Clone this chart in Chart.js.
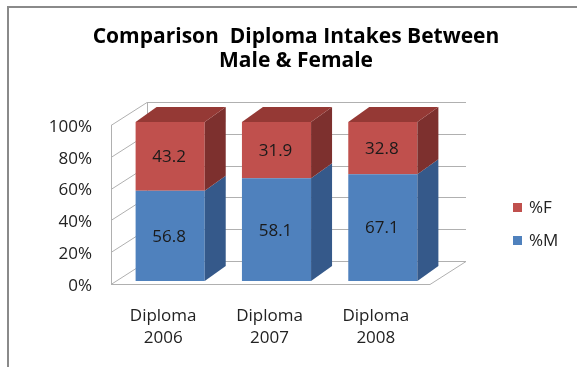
<!DOCTYPE html>
<html>
<head>
<meta charset="utf-8">
<script src="https://cdn.jsdelivr.net/npm/chart.js@4.4.1/dist/chart.umd.min.js"></script>
<style>
    html, body { margin: 0; padding: 0; background: #fff; }
    #wrap { width: 577px; height: 367px; position: relative; }
</style>
</head>
<body>
<div id="wrap"><canvas id="grafic-intakes"></canvas></div>
<script>
const categories = [['Diploma', '2006'], ['Diploma', '2007'], ['Diploma', '2008']];
const maleValues = [56.8, 58.1, 67.1];
const femaleValues = [43.2, 31.9, 32.8];
const seriesLabels = ['%M', '%F'];
const titleLines = ['Comparison  Diploma Intakes Between', 'Male & Female'];
const yTicks = [0, 20, 40, 60, 80, 100];

// 100% stacked: share of each year's total
const totals = maleValues.map((m, i) => m + femaleValues[i]);
const malePct = maleValues.map((m, i) => m / totals[i] * 100);
const femalePct = femaleValues.map((f, i) => f / totals[i] * 100);

const FONT = '"Open Sans"';
const colors = {
    mFront: '#4F81BD', mSide: '#35598A',
    fFront: '#C0504D', fSide: '#7D302E', fTop: '#953935'
};

/* 3D walls, grid, border, title, legend */
const decorPlugin = {
    id: 'decor',
    beforeDatasetsDraw(chart) {
        const ctx = chart.ctx;
        const a = chart.chartArea;
        const ys = chart.scales.y;
        const fx = -6, fy = 3, bx = 30, by = -20;

        ctx.save();
        // outer frame
        ctx.strokeStyle = '#8a8a8a';
        ctx.lineWidth = 2;
        ctx.beginPath();
        ctx.moveTo(8, 367);
        ctx.lineTo(8, 7);
        ctx.lineTo(577, 7);
        ctx.stroke();

        ctx.strokeStyle = '#b0b0b0';
        ctx.lineWidth = 1;
        ctx.beginPath();
        yTicks.forEach(v => {
            const py = Math.round(ys.getPixelForValue(v)) + 0.5;
            ctx.moveTo(a.left + fx, py + fy);
            ctx.lineTo(a.left + bx, py + by);
            ctx.lineTo(a.right + bx, py + by);
        });
        ctx.moveTo(a.left + fx + 0.5, a.top + fy);
        ctx.lineTo(a.left + fx + 0.5, a.bottom + fy);
        ctx.moveTo(a.left + bx + 0.5, a.top + by);
        ctx.lineTo(a.left + bx + 0.5, a.bottom + by);
        ctx.moveTo(a.left + fx, a.bottom + fy + 0.5);
        ctx.lineTo(a.right + fx, a.bottom + fy + 0.5);
        ctx.lineTo(a.right + bx, a.bottom + by + 0.5);
        ctx.stroke();

        // title
        ctx.fillStyle = '#000';
        ctx.textAlign = 'center';
        ctx.textBaseline = 'middle';
        ctx.font = 'bold 21px ' + FONT;
        ctx.fillText(titleLines[0], 296, 37);
        ctx.fillText(titleLines[1], 296, 61);

        // legend (top series first)
        ctx.font = '17px ' + FONT;
        ctx.textAlign = 'left';
        const ds = chart.data.datasets;
        for (let i = ds.length - 1, k = 0; i >= 0; i--, k++) {
            const ly = 207 + k * 33;
            ctx.fillStyle = ds[i].backgroundColor;
            ctx.fillRect(513, ly - 4, 9, 9);
            ctx.fillStyle = '#222';
            ctx.fillText(ds[i].label, 529, ly + 1);
        }
        ctx.restore();
    },
    afterDatasetsDraw(chart) {
        const ctx = chart.ctx;
        const dx = 21, dy = -15;
        const metas = [chart.getDatasetMeta(0), chart.getDatasetMeta(1)];
        const sides = [colors.mSide, colors.fSide];
        ctx.save();
        metas.forEach((meta, d) => {
            meta.data.forEach(bar => {
                const r = bar.x + bar.width / 2;
                ctx.fillStyle = sides[d];
                ctx.beginPath();
                ctx.moveTo(r, bar.y);
                ctx.lineTo(r + dx, bar.y + dy);
                ctx.lineTo(r + dx, bar.base + dy);
                ctx.lineTo(r, bar.base);
                ctx.closePath();
                ctx.fill();
                if (d === metas.length - 1) {
                    const l = bar.x - bar.width / 2;
                    ctx.fillStyle = colors.fTop;
                    ctx.beginPath();
                    ctx.moveTo(l, bar.y);
                    ctx.lineTo(l + dx, bar.y + dy);
                    ctx.lineTo(r + dx, bar.y + dy);
                    ctx.lineTo(r, bar.y);
                    ctx.closePath();
                    ctx.fill();
                }
            });
        });
        // value labels
        ctx.fillStyle = '#1a1a1a';
        ctx.font = '17px ' + FONT;
        ctx.textAlign = 'center';
        ctx.textBaseline = 'middle';
        const raw = [maleValues, femaleValues];
        metas.forEach((meta, d) => {
            meta.data.forEach((bar, i) => {
                ctx.fillText(raw[d][i].toFixed(1), bar.x - 1, (bar.y + bar.base) / 2 + 1);
            });
        });
        ctx.restore();
    }
};

const ctx = document.getElementById('grafic-intakes').getContext('2d');
const chart = new Chart(ctx, {
    type: 'bar',
    data: {
        labels: categories,
        datasets: [{
            label: seriesLabels[0],
            data: malePct,
            backgroundColor: colors.mFront,
            borderWidth: 0
        }, {
            label: seriesLabels[1],
            data: femalePct,
            backgroundColor: colors.fFront,
            borderWidth: 0
        }]
    },
    options: {
        responsive: true,
        maintainAspectRatio: false,
        animation: false,
        layout: { padding: { left: 0, top: 122, right: 141, bottom: 10 } },
        datasets: { bar: { categoryPercentage: 1, barPercentage: 0.65 } },
        plugins: {
            legend: { display: false },
            title: { display: false },
            tooltip: { enabled: false }
        },
        scales: {
            x: {
                stacked: true,
                grid: { display: false },
                border: { display: false },
                ticks: {
                    color: '#222',
                    font: { family: 'Open Sans', size: 17, lineHeight: 1.3 },
                    padding: 16,
                    labelOffset: -7,
                    maxRotation: 0
                },
                afterFit(scale) { scale.height = 76; }
            },
            y: {
                stacked: true,
                min: 0,
                max: 100,
                grid: { display: false },
                border: { display: false },
                ticks: {
                    stepSize: 20,
                    color: '#222',
                    font: { family: 'Open Sans', size: 17 },
                    padding: 17,
                    labelOffset: 5,
                    callback: v => v + '%'
                },
                afterFit(scale) { scale.width = 117; }
            }
        }
    },
    plugins: [decorPlugin]
});
</script>
</body>
</html>
